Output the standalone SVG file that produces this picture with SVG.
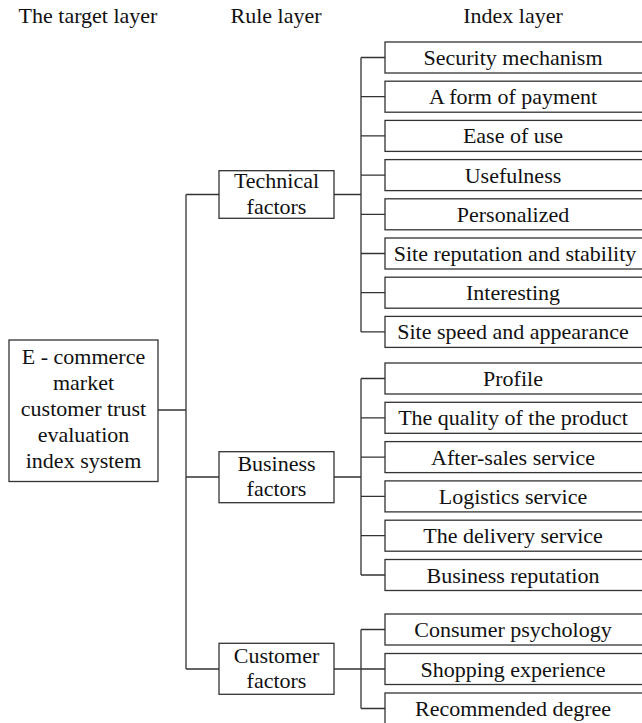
<svg xmlns="http://www.w3.org/2000/svg" width="642" height="723" viewBox="0 0 642 723">
<style>
text{font-family:"Liberation Serif","Times New Roman",serif;font-size:22px;fill:#111;text-anchor:middle}
rect{fill:#fff;stroke:#333;stroke-width:1.3}
.c{fill:none;stroke:#333;stroke-width:1.3}
</style>
<rect x="0" y="0" width="642" height="723" style="stroke:none"/>
<g id="headers">
<text x="88" y="23">The target layer</text>
<text x="276" y="23">Rule layer</text>
<text x="513" y="23">Index layer</text>
</g>
<g id="connectors">
<path class="c" d="M158 410H186M186 194.5V669M186 194.5H219M186 477H219M186 669H219"/>
<path class="c" d="M334 194.5H361M361 57.5V331.9M361 57.5H385M361 96.7H385M361 135.9H385M361 175.1H385M361 214.3H385M361 253.5H385M361 292.7H385M361 331.9H385"/>
<path class="c" d="M334 477H361M361 378.5V575M361 378.5H385M361 417.8H385M361 457.1H385M361 496.4H385M361 535.7H385M361 575H385"/>
<path class="c" d="M334 669H361M361 629.5V708.5M361 629.5H385M361 669H385M361 708.5H385"/>
</g>
<g id="target">
<rect x="9" y="340" width="149" height="141.5"/>
<text x="83.5" y="364">E - commerce</text>
<text x="83.5" y="390">market</text>
<text x="83.5" y="416">customer trust</text>
<text x="83.5" y="442">evaluation</text>
<text x="83.5" y="468">index system</text>
</g>
<g id="technical">
<rect x="219" y="170.7" width="115" height="47.6"/>
<text x="276.5" y="187.5">Technical</text>
<text x="276.5" y="213.5">factors</text>
</g>
<g id="business">
<rect x="219" y="451.7" width="115" height="51"/>
<text x="276.5" y="470.5">Business</text>
<text x="276.5" y="496">factors</text>
</g>
<g id="customer">
<rect x="219" y="643.3" width="115" height="51"/>
<text x="276.5" y="662.5">Customer</text>
<text x="276.5" y="688">factors</text>
</g>
<g id="i1"><rect x="385" y="42" width="270" height="31"/><text x="513" y="65">Security mechanism</text></g>
<g id="i2"><rect x="385" y="81.2" width="270" height="31"/><text x="513" y="104.2">A form of payment</text></g>
<g id="i3"><rect x="385" y="120.4" width="270" height="31"/><text x="513" y="143.4">Ease of use</text></g>
<g id="i4"><rect x="385" y="159.6" width="270" height="31"/><text x="513" y="182.6">Usefulness</text></g>
<g id="i5"><rect x="385" y="198.8" width="270" height="31"/><text x="513" y="221.8">Personalized</text></g>
<g id="i6"><rect x="385" y="238" width="270" height="31"/><text x="515" y="261">Site reputation and stability</text></g>
<g id="i7"><rect x="385" y="277.2" width="270" height="31"/><text x="513" y="300.2">Interesting</text></g>
<g id="i8"><rect x="385" y="316.4" width="270" height="31"/><text x="513" y="339.4">Site speed and appearance</text></g>
<g id="b1"><rect x="385" y="363" width="270" height="31"/><text x="513" y="386">Profile</text></g>
<g id="b2"><rect x="385" y="402.3" width="270" height="31"/><text x="513" y="425.3">The quality of the product</text></g>
<g id="b3"><rect x="385" y="441.6" width="270" height="31"/><text x="513" y="464.6">After-sales service</text></g>
<g id="b4"><rect x="385" y="480.9" width="270" height="31"/><text x="513" y="503.9">Logistics service</text></g>
<g id="b5"><rect x="385" y="520.2" width="270" height="31"/><text x="513" y="543.2">The delivery service</text></g>
<g id="b6"><rect x="385" y="559.5" width="270" height="31"/><text x="513" y="582.5">Business reputation</text></g>
<g id="c1"><rect x="385" y="614" width="270" height="31"/><text x="513" y="637">Consumer psychology</text></g>
<g id="c2"><rect x="385" y="653.5" width="270" height="31"/><text x="513" y="676.5">Shopping experience</text></g>
<g id="c3"><rect x="385" y="693" width="270" height="31"/><text x="513" y="716">Recommended degree</text></g>
</svg>
